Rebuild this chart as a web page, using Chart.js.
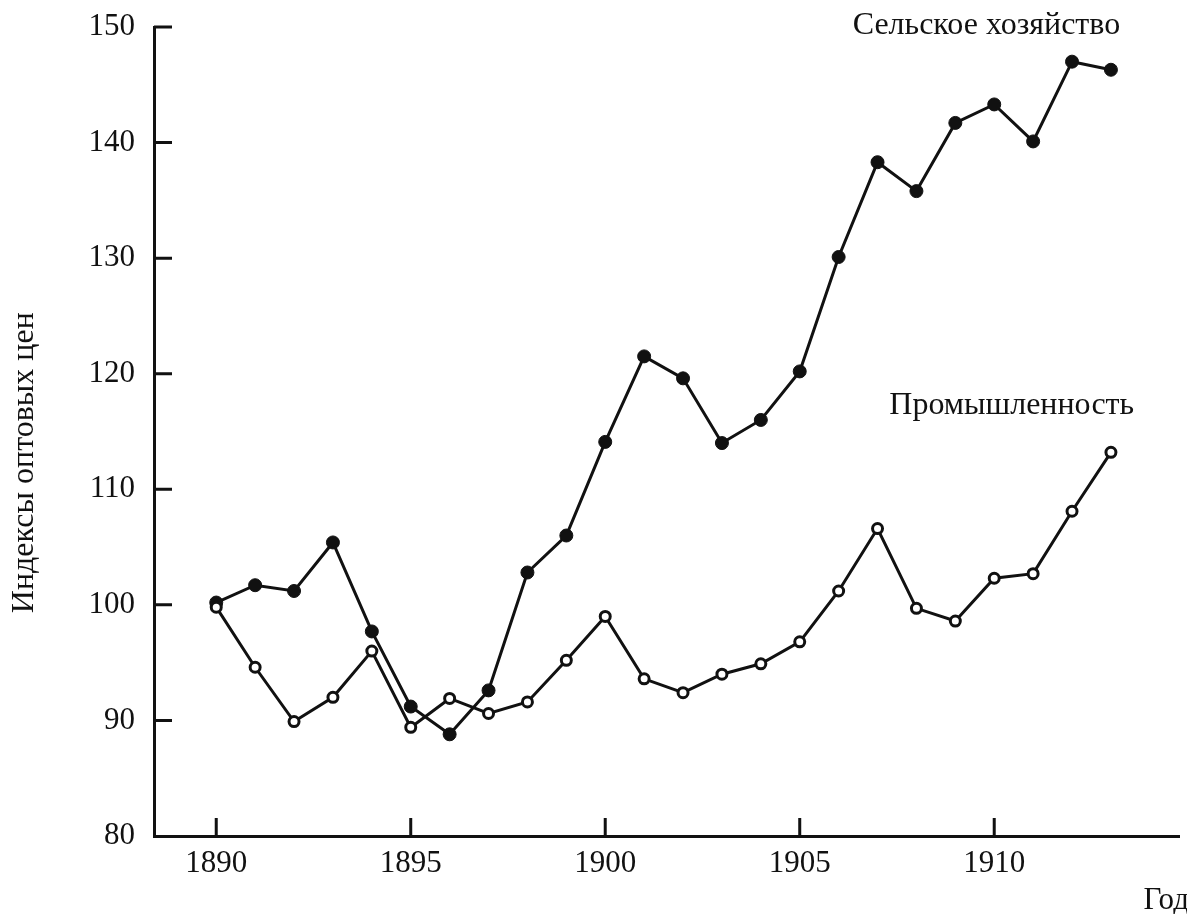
<!DOCTYPE html>
<html>
<head>
<meta charset="utf-8">
<script src="https://cdn.jsdelivr.net/npm/chart.js@4.4.1/dist/chart.umd.min.js"></script>
<style>
  html, body { margin: 0; padding: 0; background: #fff; }
  #wrap { width: 1187px; height: 914px; }
</style>
</head>
<body>
<div id="wrap"><canvas id="chart" width="1187" height="914"></canvas></div>
<script>
// years and index values
const years = [1890, 1891, 1892, 1893, 1894, 1895, 1896, 1897, 1898, 1899, 1900, 1901,
  1902, 1903, 1904, 1905, 1906, 1907, 1908, 1909, 1910, 1911, 1912, 1913];
const agriculture = [100.2, 101.7, 101.2, 105.4, 97.7, 91.2, 88.8, 92.6, 102.8, 106.0, 114.1, 121.5,
  119.6, 114.0, 116.0, 120.2, 130.1, 138.3, 135.8, 141.7, 143.3, 140.1, 147.0, 146.3];
const industry = [99.8, 94.6, 89.9, 92.0, 96.0, 89.4, 91.9, 90.6, 91.6, 95.2, 99.0, 93.6,
  92.4, 94.0, 94.9, 96.8, 101.2, 106.6, 99.7, 98.6, 102.3, 102.7, 108.1, 113.2];
const xTicks = [1890, 1895, 1900, 1905, 1910];
const yTicks = [80, 90, 100, 110, 120, 130, 140, 150];

const ink = "#111";
const serif = "'Liberation Serif', 'Times New Roman', serif";

const toPoints = (vals) => vals.map((v, i) => ({ x: years[i], y: v }));

// inward tick marks, series labels and axis titles
const decor = {
  id: "decor",
  afterDraw(chart) {
    const ctx = chart.ctx;
    const xs = chart.scales.x;
    const ys = chart.scales.y;
    const area = chart.chartArea;
    ctx.save();
    ctx.strokeStyle = ink;
    ctx.lineWidth = 3;
    ctx.beginPath();
    xTicks.forEach((t) => {
      const px = xs.getPixelForValue(t);
      ctx.moveTo(px, area.bottom);
      ctx.lineTo(px, area.bottom - 18);
    });
    yTicks.forEach((t) => {
      if (t === 80) return;
      const py = ys.getPixelForValue(t);
      ctx.moveTo(area.left, py);
      ctx.lineTo(area.left + 18, py);
    });
    ctx.stroke();

    ctx.fillStyle = ink;
    ctx.font = "32px " + serif;
    ctx.textAlign = "center";
    ctx.textBaseline = "middle";
    ctx.fillText("Сельское хозяйство", xs.getPixelForValue(1909.8), ys.getPixelForValue(150.1));
    ctx.fillText("Промышленность", xs.getPixelForValue(1910.45), ys.getPixelForValue(117.2));

    ctx.font = "31px " + serif;
    ctx.textAlign = "right";
    ctx.fillText("Год", chart.width + 2, chart.height - 13);

    ctx.save();
    ctx.translate(25, ys.getPixelForValue(112.3));
    ctx.rotate(-Math.PI / 2);
    ctx.font = "32px " + serif;
    ctx.textAlign = "center";
    ctx.fillText("Индексы оптовых цен", 0, 0);
    ctx.restore();
    ctx.restore();
  },
};

new Chart(document.getElementById("chart"), {
  type: "line",
  data: {
    datasets: [
      {
        label: "Промышленность",
        data: toPoints(industry),
        borderColor: ink,
        borderWidth: 3,
        pointRadius: 5,
        pointBorderWidth: 3,
        pointBackgroundColor: "#fff",
        pointBorderColor: ink,
        tension: 0,
      },
      {
        label: "Сельское хозяйство",
        data: toPoints(agriculture),
        borderColor: ink,
        borderWidth: 3,
        pointRadius: 6.5,
        pointBorderWidth: 1,
        pointBackgroundColor: ink,
        pointBorderColor: ink,
        tension: 0,
      },
    ],
  },
  options: {
    responsive: false,
    animation: false,
    layout: { padding: { left: 0, right: 7, top: 27, bottom: 0 } },
    plugins: { legend: { display: false }, tooltip: { enabled: false } },
    scales: {
      x: {
        type: "linear",
        min: 1888.4,
        max: 1914.75,
        afterBuildTicks: (scale) => {
          scale.ticks = xTicks.map((v) => ({ value: v }));
        },
        afterFit: (scale) => {
          scale.height = 78;
          scale.paddingLeft = 0;
          scale.paddingRight = 0;
        },
        grid: { display: false, drawTicks: false },
        border: { display: true, color: ink, width: 3 },
        ticks: {
          color: ink,
          font: { family: serif, size: 31 },
          padding: 9,
          maxRotation: 0,
          callback: (v) => String(v),
        },
      },
      y: {
        min: 80,
        max: 150,
        afterBuildTicks: (scale) => {
          scale.ticks = yTicks.map((v) => ({ value: v }));
        },
        afterFit: (scale) => {
          scale.width = 154;
          scale.paddingTop = 0;
          scale.paddingBottom = 0;
        },
        grid: { display: false, drawTicks: false },
        border: { display: true, color: ink, width: 3 },
        ticks: {
          color: ink,
          font: { family: serif, size: 31 },
          padding: 19,
        },
      },
    },
  },
  plugins: [decor],
});
</script>
</body>
</html>
